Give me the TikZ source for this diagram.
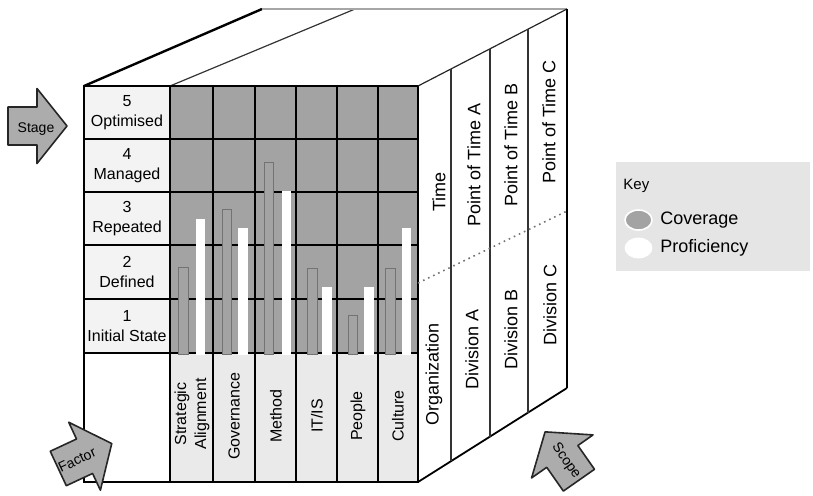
\documentclass[tikz,border=0pt]{standalone}
\usepackage{fontspec}
\setmainfont{Liberation Sans}
\usetikzlibrary{calc}
\definecolor{gridgray}{RGB}{163,163,163}
\definecolor{baredge}{RGB}{115,115,115}
\definecolor{labelgray}{RGB}{243,243,243}
\definecolor{factorgray}{RGB}{234,234,234}
\definecolor{keygray}{RGB}{229,229,229}
\definecolor{arrowgray}{RGB}{172,172,172}
\tikzset{
  gridline/.style={black, line width=0.9pt},
  coverbar/.style={fill=gridgray, draw=baredge, line width=0.5pt},
  profbar/.style={fill=white},
  rowlabel/.style={font=\fontsize{8}{10}\selectfont, align=center, inner sep=0pt},
  factorlabel/.style={font=\fontsize{8}{10}\selectfont, align=center, rotate=90, inner sep=0pt},
  scopelabel/.style={font=\fontsize{9}{10}\selectfont, rotate=90, inner sep=0pt},
  arrowlabel/.style={font=\fontsize{7}{8}\selectfont, inner sep=0pt},
  keylabel/.style={font=\fontsize{9}{10}\selectfont, anchor=west, inner sep=0pt},
  arrowbody/.style={fill=arrowgray, draw=black!85, line width=0.8pt, line join=round},
  pics/bigarrow/.style={code={
    \filldraw[arrowbody] (-29.5,-19) -- (-0.5,-19) -- (-0.5,-37.5) -- (29.5,0)
      -- (-0.5,37.5) -- (-0.5,19) -- (-29.5,19) -- cycle;}}
}
\begin{document}
\begin{tikzpicture}[x=0.5pt,y=-0.5pt]
        \useasboundingbox (0,0) rectangle (813,495);
        % Cube corners
        \coordinate (ftl) at (84,86);
        \coordinate (ftr) at (418,86);
        \coordinate (fbr) at (418,482);
        \coordinate (btl) at (262,9);
        \coordinate (btm) at (355,9);
        \coordinate (btr) at (567,9);
        \coordinate (bbr) at (567,388);
        % Top face
        \draw[line width=1.2pt] (ftl) -- (btl);
        \draw[black!80, line width=0.6pt] (170,86) -- (btm);
        \draw[black!35, line width=0.6pt] (btl) -- (btr);
        % Front face fills
        \fill[labelgray] (84,86) rectangle (170,353);
        \fill[gridgray] (170,86) rectangle (418,353);
        \fill[factorgray] (170,353) rectangle (418,482);
        % Grid
        \draw[gridline] (84,139) -- (418,139);
        \draw[gridline] (84,192) -- (418,192);
        \draw[gridline] (84,245) -- (418,245);
        \draw[gridline] (84,299) -- (418,299);
        \draw[gridline] (84,353) -- (418,353);
        \draw[gridline] (170,86) -- (170,482);
        \draw[gridline] (213,86) -- (213,482);
        \draw[gridline] (255,86) -- (255,482);
        \draw[gridline] (296,86) -- (296,482);
        \draw[gridline] (337,86) -- (337,482);
        \draw[gridline] (378,86) -- (378,482);
        % Coverage and proficiency bars
        \filldraw[coverbar] (178,354.5) rectangle (188,267);
        \fill[profbar] (196,354.5) rectangle (205,219);
        \filldraw[coverbar] (222,354.5) rectangle (231,209);
        \fill[profbar] (238,354.5) rectangle (248,228);
        \filldraw[coverbar] (264,354.5) rectangle (273,162);
        \fill[profbar] (282,354.5) rectangle (291,191);
        \filldraw[coverbar] (307,354.5) rectangle (317,268);
        \fill[profbar] (322,354.5) rectangle (332,287);
        \filldraw[coverbar] (348,354.5) rectangle (357,315);
        \fill[profbar] (364,354.5) rectangle (374,287);
        \filldraw[coverbar] (385,354.5) rectangle (395,268);
        \fill[profbar] (402,354.5) rectangle (411,228);
        % Front face border
        \draw[line width=1.1pt] (ftl) rectangle (fbr);
        % Right face
        \draw[black!85, line width=0.6pt] (ftr) -- (btr);
        \draw[line width=1.2pt] (btr) -- (bbr);
        \draw[line width=0.9pt] (fbr) -- (bbr);
        \draw[black!80, line width=0.6pt] ($(ftr)!0.2215!(btr)$) -- ($(fbr)!0.2215!(bbr)$);
        \draw[black!80, line width=0.6pt] ($(ftr)!0.483!(btr)$) -- ($(fbr)!0.483!(bbr)$);
        \draw[black!80, line width=0.6pt] ($(ftr)!0.738!(btr)$) -- ($(fbr)!0.738!(bbr)$);
        \coordinate (fmid) at (418,283);
        \coordinate (bmid) at (567,211);
        \draw[black!55, dotted, line width=0.8pt] (fmid) -- (bmid);
        % Stage labels
        \node[rowlabel] (stage5) at (127,113) {5\\Optimised};
        \node[rowlabel] (stage4) at (127,166) {4\\Managed};
        \node[rowlabel] (stage3) at (127,219) {3\\Repeated};
        \node[rowlabel] (stage2) at (127,272) {2\\Defined};
        \node[rowlabel] (stage1) at (127,326) {1\\Initial State};
        % Factor labels
        \node[factorlabel] (strategic) at (192,414) {Strategic\\Alignment};
        \node[factorlabel] (governance) at (234,416) {Governance};
        \node[factorlabel] (method) at (276,416) {Method};
        \node[factorlabel] (itis) at (317,416) {IT/IS};
        \node[factorlabel] (people) at (358,416) {People};
        \node[factorlabel] (culture) at (398,416) {Culture};
        % Scope labels
        \node[scopelabel] (time) at (439,192) {Time};
        \node[scopelabel] (timea) at (474,165) {Point of Time A};
        \node[scopelabel] (timeb) at (511,145) {Point of Time B};
        \node[scopelabel] (timec) at (549,122) {Point of Time C};
        \node[scopelabel] (organization) at (434,374) {Organization};
        \node[scopelabel] (diva) at (472,349) {Division A};
        \node[scopelabel] (divb) at (511,329) {Division B};
        \node[scopelabel] (divc) at (550,305) {Division C};
        % Dimension arrows
        \pic at (37.5,126) {bigarrow};
        \node[arrowlabel] (stage) at (36,129) {Stage};
        \pic[rotate=25] at (85,456) {bigarrow};
        \node[arrowlabel, rotate=25] (factor) at (77,460) {Factor};
        \pic[rotate=125] at (562,456) {bigarrow};
        \node[arrowlabel, rotate=-55] (scope) at (566,461) {Scope};
        % Key
        \fill[keygray] (616,162) rectangle (810,271);
        \node[anchor=west, inner sep=0pt, font=\fontsize{7.5}{8}\selectfont] (key) at (623,186) {Key};
        \filldraw[fill=gridgray, draw=white, line width=0.8pt] (638.5,220) ellipse [x radius=13.5, y radius=10];
        \filldraw[fill=white, draw=white] (638.5,248) ellipse [x radius=13.5, y radius=10];
        \node[keylabel] (coverage) at (660,220) {Coverage};
        \node[keylabel] (proficiency) at (660,248) {Proficiency};
\end{tikzpicture}
\end{document}
